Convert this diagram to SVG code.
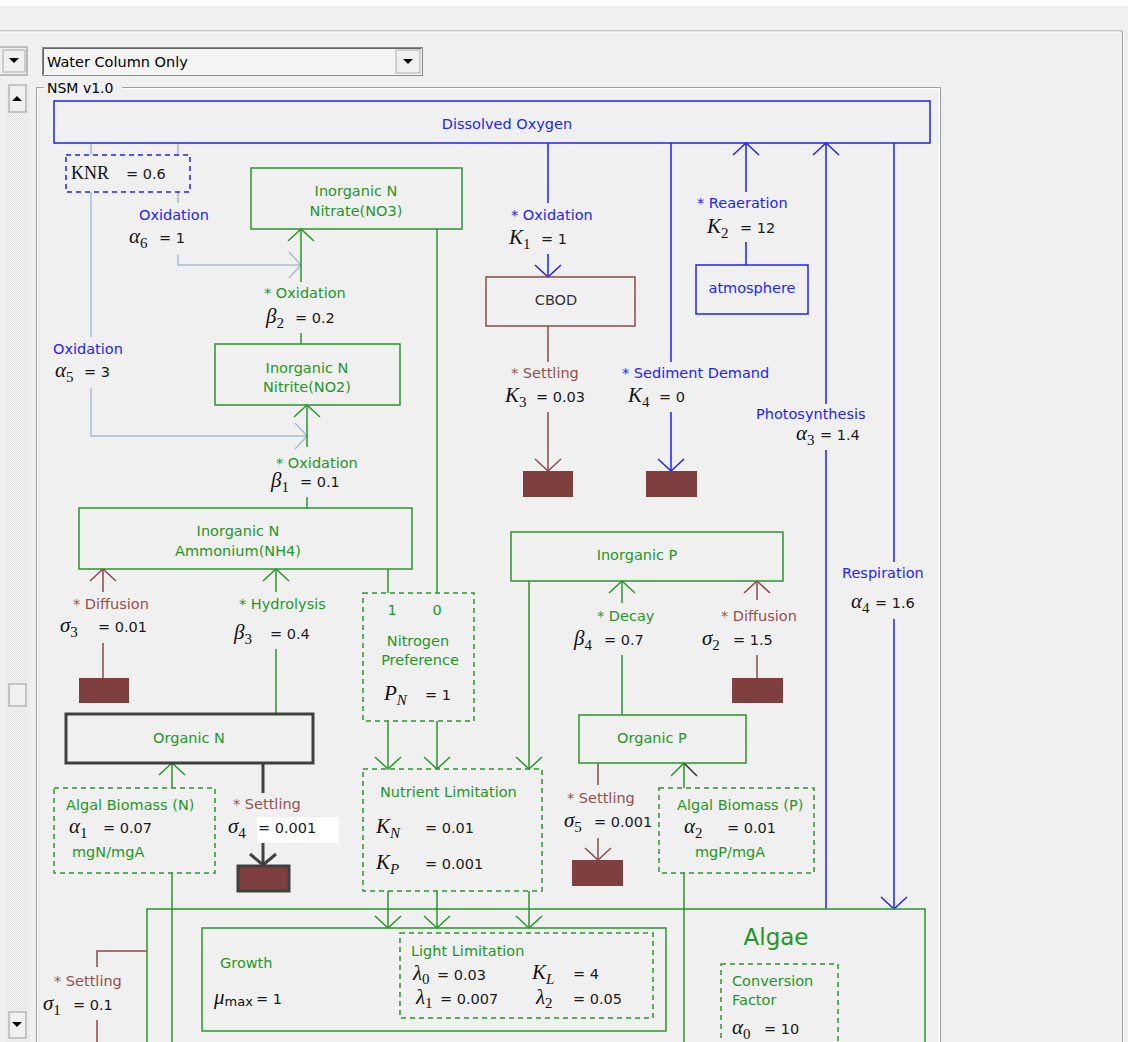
<svg xmlns="http://www.w3.org/2000/svg" width="1128" height="1042" viewBox="0 0 1128 1042">
<style>
.s{font-family:"DejaVu Sans",sans-serif;font-size:14.5px}
.b{fill:#2323ff}.g{fill:#279627}.r{fill:#95504d}.k{fill:#1a1a1a}.dk{fill:#333}
.m{font-family:"Liberation Serif","DejaVu Serif",serif;font-style:italic;font-size:21px;fill:#111}
.sb{font-size:15px;font-style:normal}
.sbi{font-size:15px}
.lb{stroke:#1f1fff;stroke-width:1.5;fill:none}
.lg{stroke:#2a962a;stroke-width:1.5;fill:none}
.lr{stroke:#8b4a4a;stroke-width:1.5;fill:none}
.ls{stroke:#a7bbd3;stroke-width:1.5;fill:none}
.ld{stroke:#404040;stroke-width:3;fill:none}
.nb{fill:none;stroke:#1f1fff;stroke-width:1.5}
.ng{fill:none;stroke:#2a962a;stroke-width:1.5}
.nr{fill:none;stroke:#8b4a4a;stroke-width:1.5}
.dg{fill:none;stroke:#2a962a;stroke-width:1.5;stroke-dasharray:5 4}
.db{fill:none;stroke:#1f1fff;stroke-width:1.5;stroke-dasharray:5 4}
.sed{fill:#7f3f3f}
.ui{font-family:"DejaVu Sans",sans-serif;font-size:14.5px;fill:#000}
</style>
<defs>
<marker id="mB" viewBox="-15 -15 30 30" markerWidth="30" markerHeight="30" refX="0" refY="0" orient="auto" markerUnits="userSpaceOnUse"><path d="M-12,-13 L0,0 L-12,13" fill="none" stroke="#1f1fff" stroke-width="1.5"/></marker>
<marker id="mG" viewBox="-15 -15 30 30" markerWidth="30" markerHeight="30" refX="0" refY="0" orient="auto" markerUnits="userSpaceOnUse"><path d="M-12,-13 L0,0 L-12,13" fill="none" stroke="#2a962a" stroke-width="1.5"/></marker>
<marker id="mR" viewBox="-15 -15 30 30" markerWidth="30" markerHeight="30" refX="0" refY="0" orient="auto" markerUnits="userSpaceOnUse"><path d="M-12,-13 L0,0 L-12,13" fill="none" stroke="#8b4a4a" stroke-width="1.5"/></marker>
<marker id="mS" viewBox="-15 -15 30 30" markerWidth="30" markerHeight="30" refX="0" refY="0" orient="auto" markerUnits="userSpaceOnUse"><path d="M-12,-13 L0,0 L-12,13" fill="none" stroke="#a7bbd3" stroke-width="1.5"/></marker>
<marker id="mD" viewBox="-15 -15 30 30" markerWidth="30" markerHeight="30" refX="0" refY="0" orient="auto" markerUnits="userSpaceOnUse"><path d="M-11,-13 L0,0 L-11,13" fill="none" stroke="#404040" stroke-width="3"/></marker>
<pattern id="stip" width="2" height="2" patternUnits="userSpaceOnUse"><rect width="2" height="2" fill="#f4f4f4"/><rect width="1" height="1" fill="#e4e4e4"/><rect x="1" y="1" width="1" height="1" fill="#e4e4e4"/></pattern>
</defs>
<rect width="1128" height="1042" fill="#f0f0f0"/>
<g id="chrome">
<rect x="0" y="0" width="1128" height="6" fill="#fff"/>
<line x1="0" y1="31" x2="1122" y2="31" stroke="#a0a0a0"/>
<line x1="0" y1="32" x2="1121" y2="32" stroke="#fff"/>
<line x1="1122.5" y1="31" x2="1122.5" y2="1042" stroke="#a0a0a0"/>
<line x1="1123.5" y1="31" x2="1123.5" y2="1042" stroke="#fff"/>
<rect x="6" y="84" width="24" height="958" fill="url(#stip)"/>
<rect x="-2" y="47" width="29" height="28" fill="#f0f0f0" stroke="#888"/>
<rect x="3" y="50" width="22" height="22" fill="#f0f0f0" stroke="#aaa"/>
<path d="M9,58 H19 L14,63 Z" fill="#000"/>
<rect x="42.5" y="47.5" width="380" height="28" fill="#f4f4f4" stroke="#888"/>
<path d="M43.5,74.5 V48.5 H421.5" fill="none" stroke="#666"/>
<rect x="396" y="50" width="24" height="23" fill="#f0f0f0" stroke="#aaa"/>
<path d="M403,59 H413 L408,64 Z" fill="#000"/>
<text class="ui" x="47" y="67">Water Column Only</text>
<rect x="9" y="85" width="17" height="27" fill="#f0f0f0" stroke="#999"/>
<path d="M12,101 H22 L17,96 Z" fill="#000"/>
<rect x="9" y="684" width="17" height="22" fill="#f0f0f0" stroke="#999"/>
<rect x="9" y="1012" width="17" height="26" fill="#f0f0f0" stroke="#999"/>
<path d="M12,1022 H22 L17,1027 Z" fill="#000"/>
<rect x="36.5" y="87.5" width="904" height="980" fill="none" stroke="#a0a0a0"/>
<rect x="37.5" y="88.5" width="902" height="980" fill="none" stroke="#fff"/>
<rect x="44" y="80" width="78" height="14" fill="#f0f0f0"/>
<text class="ui" x="47" y="93" style="font-size:14px">NSM v1.0</text>
</g>
<g id="connectors">
<path class="ls" d="M91,143 V155 M178,143 V155"/>
<path class="ls" d="M91,192 V337"/>
<path class="ls" d="M91,388 V436 H307" marker-end="url(#mS)"/>
<path class="ls" d="M178,192 V203"/>
<path class="ls" d="M178,255 V265 H301" marker-end="url(#mS)"/>
<path class="lg" d="M301,282 V229" marker-end="url(#mG)"/>
<path class="lg" d="M301,333 V344"/>
<path class="lg" d="M307,447 V405" marker-end="url(#mG)"/>
<path class="lg" d="M307,497 V508"/>
<path class="lg" d="M437,229 V593 M388,569 V593"/>
<path class="lg" d="M276,592 V569" marker-end="url(#mG)"/>
<path class="lg" d="M276,649 V714"/>
<path class="lg" d="M388,721 V769" marker-end="url(#mG)"/>
<path class="lg" d="M437,721 V769" marker-end="url(#mG)"/>
<path class="lg" d="M529,581 V769" marker-end="url(#mG)"/>
<path class="lg" d="M388,891 V928" marker-end="url(#mG)"/>
<path class="lg" d="M437,891 V928" marker-end="url(#mG)"/>
<path class="lg" d="M529,891 V928" marker-end="url(#mG)"/>
<path class="lg" d="M622,603 V581" marker-end="url(#mG)"/>
<path class="lg" d="M622,655 V715"/>
<path class="lg" d="M172,788 V763" marker-end="url(#mG)"/>
<path class="lg" d="M172,873 V1042"/>
<path class="lg" d="M684,788 V763 M671,776 L684,763"/>
<path d="M684,763 L697,776" stroke="#333" stroke-width="1.5" fill="none"/>
<path class="lg" d="M684,873 V1042"/>
<path class="lr" d="M103,592 V569" marker-end="url(#mR)"/>
<path class="lr" d="M103,643 V678"/>
<path class="lr" d="M757,600 V581" marker-end="url(#mR)"/>
<path class="lr" d="M757,655 V678"/>
<path class="lr" d="M548,326 V362"/>
<path class="lr" d="M548,412 V471" marker-end="url(#mR)"/>
<path class="lr" d="M598,763 V785"/>
<path class="lr" d="M598,838 V860" marker-end="url(#mR)"/>
<path class="lr" d="M147,951 H97 V967 M97,1020 V1042"/>
<path class="ld" d="M263,763 V793"/>
<path class="ld" d="M263,843 V865" marker-end="url(#mD)"/>
<path class="lb" d="M548,143 V203"/>
<path class="lb" d="M548,254 V277" marker-end="url(#mB)"/>
<path class="lb" d="M671,143 V362"/>
<path class="lb" d="M671,412 V471" marker-end="url(#mB)"/>
<path class="lb" d="M746,192 V143" marker-end="url(#mB)"/>
<path class="lb" d="M746,242 V265"/>
<path class="lb" d="M826,404 V143" marker-end="url(#mB)"/>
<path class="lb" d="M826,450 V909"/>
<path class="lb" d="M894,143 V562"/>
<path class="lb" d="M894,619 V909" marker-end="url(#mB)"/>
</g>
<g id="nodes">
<g id="do"><rect class="nb" x="54" y="101" width="876" height="42"/><text class="s b" x="507" y="129" text-anchor="middle">Dissolved Oxygen</text></g>
<g id="knr"><rect class="db" x="66" y="155" width="124" height="37"/><text x="71" y="179" style="font-family:'Liberation Serif',serif;font-size:18px;fill:#111">KNR</text><text class="s k" x="126" y="179">= 0.6</text></g>
<g id="ox-a6"><text class="s b" x="139" y="220">Oxidation</text><text class="m" x="129" y="243">α<tspan class="sb" dy="5">6</tspan></text><text class="s k" x="159" y="243">= 1</text></g>
<g id="ox-a5"><text class="s b" x="53" y="354">Oxidation</text><text class="m" x="55" y="377">α<tspan class="sb" dy="5">5</tspan></text><text class="s k" x="84" y="377">= 3</text></g>
<g id="nitrate"><rect class="ng" x="251" y="168" width="211" height="61"/><text class="s g" x="356" y="196" text-anchor="middle">Inorganic N</text><text class="s g" x="356" y="216" text-anchor="middle">Nitrate(NO3)</text></g>
<g id="ox-b2"><text class="s g" x="264" y="298">* Oxidation</text><text class="m" x="266" y="323">β<tspan class="sb" dy="5">2</tspan></text><text class="s k" x="295" y="323">= 0.2</text></g>
<g id="nitrite"><rect class="ng" x="215" y="344" width="185" height="61"/><text class="s g" x="307" y="373" text-anchor="middle">Inorganic N</text><text class="s g" x="307" y="392" text-anchor="middle">Nitrite(NO2)</text></g>
<g id="ox-b1"><text class="s g" x="276" y="468">* Oxidation</text><text class="m" x="271" y="487">β<tspan class="sb" dy="5">1</tspan></text><text class="s k" x="300" y="487">= 0.1</text></g>
<g id="ammonium"><rect class="ng" x="79" y="508" width="333" height="61"/><text class="s g" x="238" y="536" text-anchor="middle">Inorganic N</text><text class="s g" x="238" y="556" text-anchor="middle">Ammonium(NH4)</text></g>
<g id="diff-s3"><text class="s r" x="73" y="609">* Diffusion</text><text class="m" x="60" y="632">σ<tspan class="sb" dy="5">3</tspan></text><text class="s k" x="98" y="632">= 0.01</text><rect class="sed" x="79" y="678" width="50" height="25"/></g>
<g id="hyd-b3"><text class="s g" x="239" y="609">* Hydrolysis</text><text class="m" x="234" y="639">β<tspan class="sb" dy="5">3</tspan></text><text class="s k" x="270" y="639">= 0.4</text></g>
<g id="npref"><rect class="dg" x="363" y="593" width="111" height="128"/><text class="s g" x="392" y="615" text-anchor="middle">1</text><text class="s g" x="437" y="615" text-anchor="middle">0</text><text class="s g" x="418" y="646" text-anchor="middle">Nitrogen</text><text class="s g" x="420" y="665" text-anchor="middle">Preference</text><text class="m" x="384" y="700">P<tspan class="sbi" dy="5">N</tspan></text><text class="s k" x="425" y="700">= 1</text></g>
<g id="orgn"><rect x="66" y="714" width="247" height="49" fill="none" stroke="#404040" stroke-width="3"/><text class="s g" x="189" y="743" text-anchor="middle">Organic N</text></g>
<g id="abn"><rect class="dg" x="54" y="788" width="161" height="85"/><text class="s g" x="66" y="810">Algal Biomass (N)</text><text class="m" x="69" y="833">α<tspan class="sb" dy="5">1</tspan></text><text class="s k" x="103" y="833">= 0.07</text><text class="s g" x="72" y="857">mgN/mgA</text></g>
<g id="set-s4"><text class="s r" x="233" y="809">* Settling</text><text class="m" x="228" y="833">σ<tspan class="sb" dy="5">4</tspan></text><rect x="257" y="817" width="82" height="26" fill="#fff"/><text class="s k" x="258" y="833">= 0.001</text><rect x="238" y="866" width="51" height="25" fill="#7f3f3f" stroke="#404040" stroke-width="3"/></g>
<g id="nutlim"><rect class="dg" x="363" y="769" width="179" height="122"/><text class="s g" x="380" y="797">Nutrient Limitation</text><text class="m" x="376" y="833">K<tspan class="sbi" dy="5">N</tspan></text><text class="s k" x="425" y="833">= 0.01</text><text class="m" x="376" y="869">K<tspan class="sbi" dy="5">P</tspan></text><text class="s k" x="425" y="869">= 0.001</text></g>
<g id="inorgp"><rect class="ng" x="511" y="532" width="272" height="49"/><text class="s g" x="637" y="560" text-anchor="middle">Inorganic P</text></g>
<g id="decay-b4"><text class="s g" x="597" y="621">* Decay</text><text class="m" x="574" y="645">β<tspan class="sb" dy="5">4</tspan></text><text class="s k" x="604" y="645">= 0.7</text></g>
<g id="diff-s2"><text class="s r" x="721" y="621">* Diffusion</text><text class="m" x="702" y="645">σ<tspan class="sb" dy="5">2</tspan></text><text class="s k" x="733" y="645">= 1.5</text><rect class="sed" x="732" y="678" width="51" height="25"/></g>
<g id="orgp"><rect class="ng" x="579" y="715" width="167" height="48"/><text class="s g" x="652" y="743" text-anchor="middle">Organic P</text></g>
<g id="set-s5"><text class="s r" x="567" y="803">* Settling</text><text class="m" x="564" y="827">σ<tspan class="sb" dy="5">5</tspan></text><text class="s k" x="594" y="827">= 0.001</text><rect class="sed" x="572" y="860" width="51" height="26"/></g>
<g id="abp"><rect class="dg" x="659" y="788" width="155" height="85"/><text class="s g" x="677" y="810">Algal Biomass (P)</text><text class="m" x="684" y="833">α<tspan class="sb" dy="5">2</tspan></text><text class="s k" x="727" y="833">= 0.01</text><text class="s g" x="695" y="857">mgP/mgA</text></g>
<g id="ox-k1"><text class="s b" x="511" y="220">* Oxidation</text><text class="m" x="509" y="244">K<tspan class="sb" dy="5">1</tspan></text><text class="s k" x="541" y="244">= 1</text></g>
<g id="cbod"><rect class="nr" x="486" y="277" width="149" height="49"/><text class="s dk" x="556" y="305" text-anchor="middle">CBOD</text></g>
<g id="set-k3"><text class="s r" x="511" y="378">* Settling</text><text class="m" x="505" y="402">K<tspan class="sb" dy="5">3</tspan></text><text class="s k" x="536" y="402">= 0.03</text><rect class="sed" x="523" y="471" width="50" height="26"/></g>
<g id="sed-k4"><text class="s b" x="622" y="378">* Sediment Demand</text><text class="m" x="628" y="402">K<tspan class="sb" dy="5">4</tspan></text><text class="s k" x="659" y="402">= 0</text><rect class="sed" x="646" y="471" width="51" height="26"/></g>
<g id="reaer-k2"><text class="s b" x="697" y="208">* Reaeration</text><text class="m" x="707" y="233">K<tspan class="sb" dy="5">2</tspan></text><text class="s k" x="740" y="233">= 12</text></g>
<g id="atmosphere"><rect class="nb" x="696" y="265" width="112" height="49"/><text class="s b" x="752" y="293" text-anchor="middle">atmosphere</text></g>
<g id="photo-a3"><text class="s b" x="756" y="419">Photosynthesis</text><text class="m" x="796" y="440">α<tspan class="sb" dy="5">3</tspan></text><text class="s k" x="820" y="440">= 1.4</text></g>
<g id="resp-a4"><text class="s b" x="842" y="578">Respiration</text><text class="m" x="851" y="608">α<tspan class="sb" dy="5">4</tspan></text><text class="s k" x="875" y="608">= 1.6</text></g>
<g id="algae"><rect class="ng" x="147" y="909" width="778" height="160"/><text x="776" y="945" text-anchor="middle" style="font-family:'DejaVu Sans',sans-serif;font-size:23px;fill:#279627">Algae</text></g>
<g id="growth"><rect class="ng" x="202" y="928" width="464" height="103"/><text class="s g" x="220" y="968">Growth</text><text class="m" x="214" y="1004">μ<tspan style="font-family:'DejaVu Sans',sans-serif;font-style:normal;font-size:13px" dy="2">max</tspan></text><text class="s k" x="256" y="1004">= 1</text></g>
<g id="lightlim"><rect class="dg" x="400" y="933" width="253" height="85"/><text class="s g" x="411" y="956">Light Limitation</text><text class="m" x="413" y="980">λ<tspan class="sb" dy="4">0</tspan></text><text class="s k" x="437" y="980">= 0.03</text><text class="m" x="532" y="979">K<tspan class="sbi" dy="5">L</tspan></text><text class="s k" x="573" y="979">= 4</text><text class="m" x="416" y="1004">λ<tspan class="sb" dy="4">1</tspan></text><text class="s k" x="440" y="1004">= 0.007</text><text class="m" x="536" y="1004">λ<tspan class="sb" dy="4">2</tspan></text><text class="s k" x="573" y="1004">= 0.05</text></g>
<g id="convfactor"><rect class="dg" x="721" y="964" width="117" height="100"/><text class="s g" x="732" y="986">Conversion</text><text class="s g" x="732" y="1005">Factor</text><text class="m" x="732" y="1034">α<tspan class="sb" dy="5">0</tspan></text><text class="s k" x="764" y="1034">= 10</text></g>
<g id="set-s1"><text class="s r" x="54" y="986">* Settling</text><text class="m" x="43" y="1010">σ<tspan class="sb" dy="5">1</tspan></text><text class="s k" x="73" y="1010">= 0.1</text></g>
</g>
</svg>
